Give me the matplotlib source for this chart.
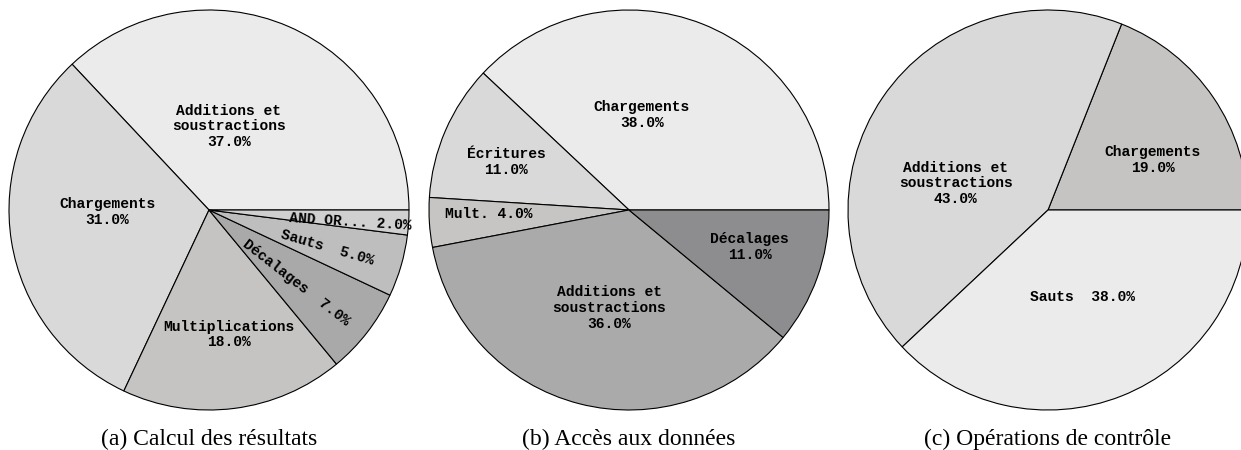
import numpy as np
import matplotlib
matplotlib.use('Agg')
import matplotlib.pyplot as plt

# Données des trois camemberts
labels_a = ['Additions et\nsoustractions', 'Chargements', 'Multiplications',
            'Décalages', 'Sauts', 'AND OR...']
values_a = [37.0, 31.0, 18.0, 7.0, 5.0, 2.0]

labels_b = ['Chargements', 'Écritures', 'Mult.', 'Additions et\nsoustractions',
            'Décalages']
values_b = [38.0, 11.0, 4.0, 36.0, 11.0]

labels_c = ['Chargements', 'Additions et\nsoustractions', 'Sauts']
values_c = [19.0, 43.0, 38.0]

titres = ['(a) Calcul des résultats', '(b) Accès aux données',
          '(c) Opérations de contrôle']

# Couleurs (niveaux de gris)
colors_a = ['#ebebeb', '#d9d9d9', '#c5c4c2', '#a9a9a9', '#bebebe', '#d0d0d0']
colors_b = ['#ebebeb', '#d9d9d9', '#c6c5c3', '#aaaaaa', '#8d8d8f']
colors_c = ['#c5c4c2', '#d9d9d9', '#ebebeb']

# Mise en page des étiquettes : (distance, décalage angulaire, pivoté, séparateur)
layout_a = [(0.43, 10, False, '\n'), (0.51, -8, False, '\n'), (0.63, 2, False, '\n'),
            (0.57, -2, True, '  '), (0.62, -1.5, True, '  '), (0.71, -1.3, True, ' ')]
layout_b = [(0.48, 14, False, '\n'), (0.66, 2, False, '\n'), (0.70, -2, False, ' '),
            (0.50, 3, False, '\n'), (0.63, 2.8, False, '\n')]
layout_c = [(0.58, -8.7, False, '\n'), (0.48, 18, False, '\n'), (0.47, 0, False, '  ')]

W, H = 1241, 450
R = 200
centres_x = [209, 629, 1048]
cy = 210

fig = plt.figure(figsize=(W / 100, H / 100), dpi=100)

mono = {'family': 'Liberation Mono', 'weight': 'bold', 'size': 10.5}

for i, (labels, values, colors, layout) in enumerate([
        (labels_a, values_a, colors_a, layout_a),
        (labels_b, values_b, colors_b, layout_b),
        (labels_c, values_c, colors_c, layout_c)]):
    cx = centres_x[i]
    ax = fig.add_axes([(cx - R) / W, (H - cy - R) / H, 2 * R / W, 2 * R / H])
    wedges, _ = ax.pie(values, colors=colors, startangle=0, counterclock=True,
                       radius=1.0,
                       wedgeprops=dict(edgecolor='black', linewidth=0.8))
    for w, lab, v, (d, off, rot, sep) in zip(wedges, labels, values, layout):
        mid = (w.theta1 + w.theta2) / 2
        ang = np.deg2rad(mid + off)
        txt = f'{lab}{sep}{v:.1f}%'
        ax.text(d * np.cos(ang), d * np.sin(ang), txt, ha='center', va='center',
                rotation=(mid if rot else 0), rotation_mode='anchor',
                linespacing=1.15, fontdict=mono)
    ax.set_xlim(-1, 1)
    ax.set_ylim(-1, 1)
    ax.set_aspect('equal')
    ax.axis('off')

    fig.text(cx / W, 1 - 439 / H, titres[i], ha='center', va='center',
             family='Liberation Serif', fontsize=17)

plt.savefig('out.png', dpi=100)
